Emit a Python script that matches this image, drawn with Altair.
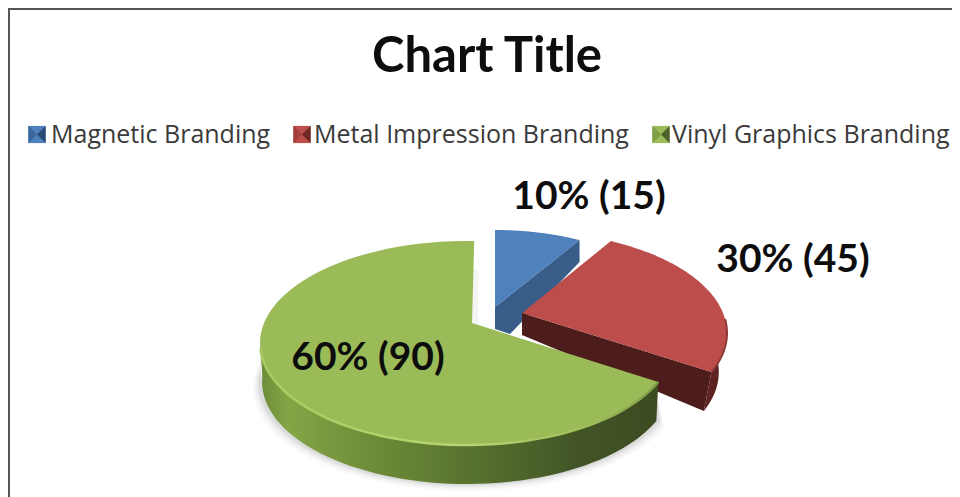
import math
import altair as alt
import pandas as pd

categories = ["Magnetic Branding", "Metal Impression Branding", "Vinyl Graphics Branding"]
values = [15, 45, 90]
top_colors = ["#4F81BD", "#BC4D4A", "#9BBB59"]
icon_left = ["#3A669C", "#A23F3C", "#7F9E45"]
icon_right = ["#274A75", "#6E2725", "#4C6229"]
title_text = "Chart Title"

W, H = 944, 489
OX, OY = 8, 8
total = sum(values)
shares = [v / total for v in values]

# look of each exploded slice: ellipse centre and axes, apex, wall lean
look = [
    dict(c=(495, 332), a=195, b=102, apex=(495, 307), lean=0.0),
    dict(c=(522, 333), a=205, b=102, apex=(522, 313), lean=0.04),
    dict(c=(467, 343), a=207, b=102, apex=(472, 323), lean=0.01),
]
icon_centres = [37, 302, 661]


def warp(theta):
    return math.radians(theta - 90 - 34 * math.sin(math.radians(theta / 2)) + 2 * theta / 360)


def rim(i, theta):
    s = look[i]
    t = warp(theta)
    return (s["c"][0] + s["a"] * math.cos(t), s["c"][1] + s["b"] * math.sin(t))


def lower(i, p, outer=True):
    c = look[i]["c"]
    d = 39 if outer else 22
    return (p[0] - (p[0] - c[0]) * look[i]["lean"], p[1] + d)


def px(pts):
    return [[round(x - OX, 2), round(y - OY, 2)] for x, y in pts]


def poly(pts, **props):
    ring = px(pts)
    ring.append(ring[0])
    return {"type": "Feature", "properties": props,
            "geometry": {"type": "Polygon", "coordinates": [ring]}}


def line(pts):
    return {"type": "Feature", "properties": {},
            "geometry": {"type": "LineString", "coordinates": px(pts)}}


starts, acc = [], 0.0
for s in shares:
    starts.append(acc * 360)
    acc += s
ends = [st + s * 360 for st, s in zip(starts, shares)]


def arc(i, a=None, b=None, n=90):
    a = starts[i] if a is None else a
    b = ends[i] if b is None else b
    return [rim(i, a + (b - a) * k / n) for k in range(n + 1)]


def shape(features, **mark):
    return alt.Chart(alt.Data(values=features)).mark_geoshape(**mark).project(
        type="identity", scale=1, translate=[0, 0])


def hgrad(stops):
    return alt.Gradient(gradient="linear", x1=0, x2=1, y1=0, y2=0,
                        stops=[alt.GradientStop(offset=o, color=c) for o, c in stops])


layers = []

# soft shadow under the green slice
g_arc = arc(2)
g_front = [p for p in g_arc if p[1] > 320]
for grow, op in [(7, 0.025), (5, 0.03), (3, 0.04), (1.5, 0.05)]:
    c = look[2]["c"]
    sh = [(c[0] + (x - c[0]) * (1 + grow / 207), y + 39 + grow) for x, y in g_front]
    sh += [(x, y + 20) for x, y in reversed(g_front)]
    layers.append(shape([poly(sh)], fill="#000000", opacity=op))
# shadow beside the gap
layers.append(shape([poly([(472, 270), (478, 270), (478, 325), (472, 325)])],
                    fill="#000000", opacity=0.04))

# blue: cut face then top
bl_end = rim(0, ends[0])
ap0 = look[0]["apex"]
layers.append(shape([poly([ap0, bl_end, lower(0, bl_end, False), (510, 334), lower(0, ap0, False)])],
                    fill="#375D88"))

# red: outer wall, cut face
re_arc = arc(1)
outer = [p for p in re_arc if p[1] > 318]
ap1 = look[1]["apex"]
re_end = rim(1, ends[1])
layers.append(shape([poly(outer + [lower(1, p) for p in reversed(outer)])], fill="#5E2321"))
layers.append(shape([poly([ap1, re_end, lower(1, re_end), lower(1, ap1, False)])],
                    fill="#4D1D1C"))

# green wall
front = [p for p in g_arc if p[1] > 335 or p[0] > 600]
layers.append(shape([poly(front + [lower(2, p) for p in reversed(front)])],
                    fill=hgrad([(0, "#6C8A39"), (0.07, "#84A646"), (0.25, "#718F3A"),
                                (0.55, "#56702E"), (0.8, "#425426"), (1, "#3C4B20")])))

# tops, carrying the legend (its keys are drawn bevelled below)
tops = [poly([look[i]["apex"]] + arc(i), name=categories[i]) for i in [0, 1, 2]]
layers.append(
    shape(tops).encode(
        color=alt.Color(
            "properties.name:N",
            scale=alt.Scale(domain=categories, range=top_colors),
            legend=alt.Legend(
                title=None, orient="none", direction="horizontal", columns=3,
                legendX=16, legendY=114, symbolType="square", symbolSize=300,
                symbolStrokeWidth=0, symbolOpacity=0, labelFont="Open Sans", labelFontSize=25,
                labelColor="#3A3A3A", labelOffset=2, columnPadding=16,
                labelLimit=400, padding=0,
            ),
        )
    )
)

# rim highlights
layers.append(shape([line([p for p in g_arc if p[1] > 345 or p[0] > 600])], filled=False,
                    strokeWidth=2.5, stroke=hgrad([(0, "#A9CB60"), (0.5, "#B7D670"),
                                                   (0.85, "#9DBB58"), (1, "#7F9B47")])))
layers.append(shape([line(outer)], filled=False, strokeWidth=2, stroke="#8F3A37"))

# bevelled legend keys
IY, IH = 134.5, 8.6
for cx, cm, cl, cr in zip(icon_centres, top_colors, icon_left, icon_right):
    layers.append(shape([poly([(cx - IH, IY - IH), (cx + IH, IY - IH), (cx + IH, IY + IH), (cx - IH, IY + IH)])], fill=cm))
    layers.append(shape([poly([(cx - IH, IY - IH), (cx, IY), (cx - IH, IY + IH)])], fill=cl))
    layers.append(shape([poly([(cx + IH, IY - IH), (cx, IY), (cx + IH, IY + IH)])], fill=cr))

# label table
labels = pd.DataFrame({
    "text": [f"{round(s * 100)}% ({v})" for s, v in zip(shares, values)],
    "lx": [589 - OX, 793 - OX, 368 - OX],
    "ly": [197 - OY, 260 - OY, 358 - OY],
})
layers.append(
    alt.Chart(labels).mark_text(font="Lato", fontWeight="bold", fontSize=39, color="#0D0D0D",
                                baseline="middle", align="center").encode(
        x=alt.X("lx:Q", scale=None), y=alt.Y("ly:Q", scale=None), text="text:N"
    )
)

# frame (top and left only)
layers.append(alt.Chart(pd.DataFrame({"a": [0]})).mark_rule(color="#555555", strokeWidth=2).encode(
    x=alt.value(0), x2=alt.value(W), y=alt.value(1)))
layers.append(alt.Chart(pd.DataFrame({"a": [0]})).mark_rule(color="#555555", strokeWidth=2).encode(
    x=alt.value(1), y=alt.value(0), y2=alt.value(H)))

chart = alt.layer(*layers).properties(
    width=W, height=H, padding=0,
    autosize=alt.AutoSizeParams(type="none"),
    title=alt.TitleParams(title_text, font="Lato", fontWeight="bold", fontSize=49,
                          color="#0D0D0D", anchor="middle", dx=7, dy=75, offset=0),
).configure_view(stroke=None)

chart.save("out.html", embed_options={"renderer": "svg", "actions": False})
